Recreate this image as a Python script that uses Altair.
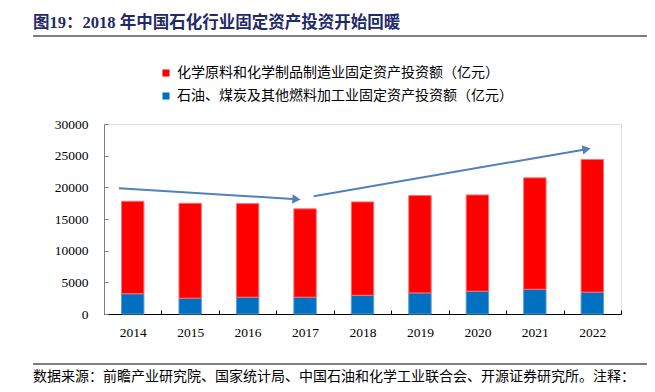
import altair as alt
import pandas as pd

# ---- data ----
years = ["2014", "2015", "2016", "2017", "2018", "2019", "2020", "2021", "2022"]
chem_invest = [14600, 14980, 14780, 13950, 14750, 15370, 15200, 17600, 20950]
petro_invest = [3200, 2500, 2650, 2650, 2950, 3330, 3600, 3900, 3450]
series_names = [
    "化学原料和化学制品制造业固定资产投资额（亿元）",
    "石油、煤炭及其他燃料加工业固定资产投资额（亿元）",
]
series_colors = ["#FF0000", "#0070C0"]
series_strokes = ["#FF7070", "#5B9BD5"]
y_ticks = [0, 5000, 10000, 15000, 20000, 25000, 30000]

# trend arrows (x in category-index units, y in 亿元)
arrow_x0 = [-0.24, 3.15]
arrow_y0 = [19850, 18600]
arrow_x1 = [2.85, 7.90]
arrow_y1 = [18120, 26030]
arrow_angle = [3.6, 350.2]

title_text = "图19：2018 年中国石化行业固定资产投资开始回暖"
source_text = "数据来源：前瞻产业研究院、国家统计局、中国石油和化学工业联合会、开源证券研究所。注释："

# ---- tables ----
rows = []
for i, y in enumerate(years):
    rows.append({"year": y, "series": series_names[1], "value": petro_invest[i], "ord": 0})
    rows.append({"year": y, "series": series_names[0], "value": chem_invest[i], "ord": 1})
df = pd.DataFrame(rows)

arrows = pd.DataFrame({"x0": arrow_x0, "y0": arrow_y0, "x1": arrow_x1, "y1": arrow_y1, "ang": arrow_angle})

W, H = 517, 190
serif = "Liberation Serif"
cjk = "Noto Sans CJK SC"
yscale = alt.Scale(domain=[0, 30000], nice=False)
xq = alt.Scale(domain=[-0.5, 8.5], nice=False, zero=False)

y_axis = alt.Axis(title=None, values=y_ticks, format="d", grid=False,
                  tickSize=alt.ExprRef("-4"), labelPadding=20,
                  labelFont=serif, labelFontSize=13.5, labelColor="#000000",
                  domainColor="#808080", tickColor="#808080")

bars = alt.Chart(df).mark_bar(width=alt.RelativeBandSize(0.39), strokeWidth=1).encode(
    x=alt.X("year:O", sort=years, scale=alt.Scale(paddingInner=0, paddingOuter=0),
            axis=alt.Axis(title=None, labelAngle=0, tickBand="extent",
                          tickSize=alt.ExprRef("-4"), labelPadding=15,
                          labelFont=serif, labelFontSize=13.5, labelColor="#000000",
                          domainColor="#000000", tickColor="#000000")),
    y=alt.Y("value:Q", stack="zero", scale=yscale, axis=y_axis),
    color=alt.Color("series:N", scale=alt.Scale(domain=series_names, range=series_colors),
                    legend=alt.Legend(title=None, orient="none", legendX=55, legendY=-58,
                                      symbolType="square", symbolSize=50, symbolStrokeWidth=0,
                                      labelFont=cjk, labelFontSize=14, labelColor="#000000",
                                      rowPadding=9, padding=0, labelLimit=500)),
    stroke=alt.Stroke("series:N", scale=alt.Scale(domain=series_names, range=series_strokes), legend=None),
    order=alt.Order("ord:Q", sort="ascending"),
)

arrow_lines = alt.Chart(arrows).mark_rule(color="#4F81BD", strokeWidth=2).encode(
    x=alt.X("x0:Q", scale=xq, axis=None),
    x2="x1:Q",
    y=alt.Y("y0:Q", scale=yscale, axis=y_axis),
    y2="y1:Q",
)
arrow_heads = alt.Chart(arrows).mark_point(shape="triangle-right", filled=True, opacity=1,
                                           color="#4F81BD", size=90).encode(
    x=alt.X("x1:Q", scale=xq, axis=None),
    y=alt.Y("y1:Q", scale=yscale, axis=y_axis),
    angle=alt.Angle("ang:Q", scale=None),
)

title_df = pd.DataFrame({"t": [title_text]})
title_mark = alt.Chart(title_df).mark_text(align="left", baseline="middle", font=f"{serif}, {cjk}",
                                           fontWeight="bold", fontSize=16.5, color="#1F2A6B").encode(
    x=alt.value(-71), y=alt.value(-101), text="t:N")
source_df = pd.DataFrame({"t": [source_text]})
source_mark = alt.Chart(source_df).mark_text(align="left", baseline="middle", font=cjk,
                                             fontSize=14, color="#000000").encode(
    x=alt.value(-71), y=alt.value(253), text="t:N")
top_rule = alt.Chart(title_df).mark_rule(color="#555555", strokeWidth=1.5).encode(
    x=alt.value(-71), x2=alt.value(546), y=alt.value(-88))
bottom_rule = alt.Chart(source_df).mark_rule(color="#555555", strokeWidth=1.5).encode(
    x=alt.value(-71), x2=alt.value(546), y=alt.value(240))

chart = alt.layer(bars, arrow_lines, arrow_heads, title_mark, top_rule, bottom_rule, source_mark).resolve_scale(
    x="independent"
).properties(
    width=W, height=H,
    autosize=alt.AutoSizeParams(type="none"),
    padding={"left": 96, "top": 116, "right": 26, "bottom": 70},
).configure_view(stroke=None).configure(background="#FFFFFF")

chart.save("out.html", embed_options={"renderer": "svg", "actions": False})
